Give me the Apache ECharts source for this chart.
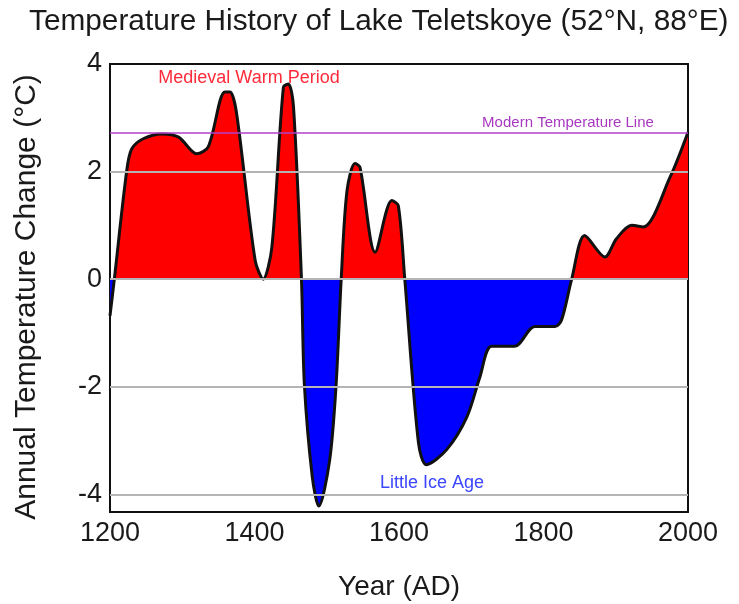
<!DOCTYPE html>
<html>
<head>
<meta charset="utf-8">
<script src="https://cdn.jsdelivr.net/npm/echarts@6/dist/echarts.min.js"></script>
<style>
  html, body { margin: 0; padding: 0; background: #fff; }
  #main { width: 739px; height: 604px; }
</style>
</head>
<body>
<div id="main"></div>
<script>
// 年份 / 温度距平 (°C)
var years = [1200, 1206, 1223, 1230, 1246, 1272, 1295, 1320, 1336, 1359, 1366, 1375, 1401, 1412, 1424,
  1440, 1447, 1454, 1465, 1469, 1480, 1489, 1504, 1513, 1520, 1528, 1539, 1546, 1567, 1590, 1599, 1608,
  1627, 1638, 1666, 1694, 1712, 1728, 1760, 1788, 1816, 1825, 1839, 1857, 1885, 1901, 1922, 1938, 1975, 2000];
var temps = [-0.68, 0.0, 2.0, 2.42, 2.61, 2.70, 2.64, 2.33, 2.46, 3.48, 3.48, 3.10, 0.34, 0.0, 0.59,
  3.57, 3.63, 3.20, 0.0, -1.95, -3.68, -4.22, -3.37, -1.95, 0.0, 1.64, 2.15, 2.08, 0.50, 1.46, 1.37, 0.0,
  -3.05, -3.45, -3.17, -2.56, -1.82, -1.25, -1.25, -0.88, -0.88, -0.76, 0.0, 0.81, 0.41, 0.75, 1.00, 0.97, 1.89, 2.73];
var yTicks = [-4, -2, 0, 2, 4];
var gridLevels = [2, 0, -2, -4];
var modernLine = 2.73;

var myChart = echarts.init(document.getElementById('main'));
var pts = years.map(function (y, i) { return [y, temps[i]]; });
var font = 'Liberation Sans, Arial, sans-serif';

var option = {
    animation: false,
    title: {
        text: 'Temperature History of Lake Teletskoye (52°N, 88°E)',
        left: 24,
        top: 2,
        textStyle: { fontFamily: font, fontSize: 29.8, fontWeight: 'normal', color: '#1a1a1a' }
    },
    grid: {
        left: 110, right: 51, top: 64, bottom: 92,
        show: true, borderColor: '#111', borderWidth: 2,
        outerBoundsMode: 'none'
    },
    xAxis: {
        type: 'value',
        min: 1200, max: 2000, interval: 200,
        name: 'Year (AD)',
        nameLocation: 'middle',
        nameGap: 61,
        nameTextStyle: { fontFamily: font, fontSize: 28, color: '#1a1a1a' },
        axisLine: { show: false },
        axisTick: { show: false },
        splitLine: { show: false },
        axisLabel: {
            fontFamily: font, fontSize: 27, color: '#1a1a1a', margin: 8,
            formatter: function (v) { return String(v); }
        }
    },
    yAxis: {
        type: 'value',
        min: -4.33, max: 4,
        name: 'Annual Temperature Change (°C)',
        nameLocation: 'middle',
        nameGap: 68,
        nameTextStyle: { fontFamily: font, fontSize: 30, color: '#1a1a1a', padding: [0, 18, 0, 0] },
        axisLine: { show: false },
        axisTick: { show: false },
        splitLine: { show: false },
        axisLabel: { fontFamily: font, fontSize: 27, color: '#1a1a1a', margin: 8, customValues: yTicks }
    },
    visualMap: {
        show: false,
        type: 'piecewise',
        seriesIndex: 1,
        dimension: 1,
        pieces: [
            { gt: 0, lte: 100, color: '#ff0000' },
            { gte: -100, lte: 0, color: '#0000ff' }
        ],
        outOfRange: { color: '#0000ff' }
    },
    series: [
        {
            // 网格线
            type: 'line',
            data: [],
            z: 1,
            markLine: {
                silent: true,
                symbol: 'none',
                label: { show: false },
                lineStyle: { color: '#b4b4b4', width: 2, type: 'solid' },
                data: gridLevels.map(function (v) { return { yAxis: v }; })
            }
        },
        {
            // 填充
            type: 'line',
            data: pts,
            z: 2,
            smooth: 0.3,
            symbol: 'none',
            lineStyle: { width: 0 },
            areaStyle: { opacity: 1, origin: 0 }
        },
        {
            type: 'line',
            data: [],
            z: 3,
            markLine: {
                silent: true,
                symbol: 'none',
                label: { show: false },
                lineStyle: { color: '#b040c8', width: 1.5, type: 'solid' },
                data: [{ yAxis: modernLine }]
            }
        },
        {
            // 曲线
            type: 'line',
            data: pts,
            z: 4,
            smooth: 0.3,
            symbol: 'none',
            lineStyle: { color: '#111', width: 3 }
        }
    ],
    graphic: [
        {
            type: 'text', x: 249, y: 78, z: 10,
            style: { text: 'Medieval Warm Period', fill: '#ff2a3a', font: '18px ' + font, textAlign: 'center', textVerticalAlign: 'middle' }
        },
        {
            type: 'text', x: 568, y: 123, z: 10,
            style: { text: 'Modern Temperature Line', fill: '#a838c0', font: '15px ' + font, textAlign: 'center', textVerticalAlign: 'middle' }
        },
        {
            type: 'text', x: 432, y: 483, z: 10,
            style: { text: 'Little Ice Age', fill: '#3a46ff', font: '18px ' + font, textAlign: 'center', textVerticalAlign: 'middle' }
        }
    ]
};

myChart.setOption(option);
</script>
</body>
</html>
